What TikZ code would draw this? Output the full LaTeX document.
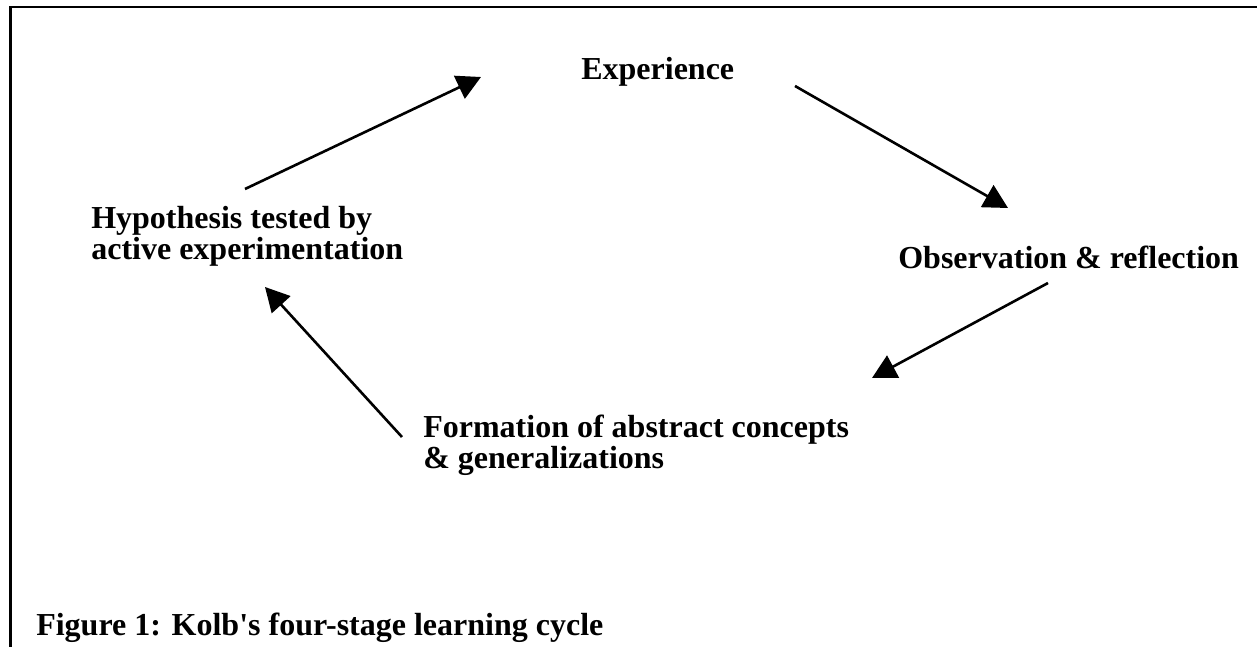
\documentclass[tikz,border=0pt]{standalone}
\usepackage{fontspec}
\setmainfont{Liberation Serif}
\usetikzlibrary{arrows.meta}
\tikzset{>={Triangle[length=24pt,width=25pt]}}
\tikzset{stage/.style={anchor=base west,inner sep=0pt,align=left,
    font=\bfseries\fontsize{32}{31.7}\selectfont}}

\begin{document}
\begin{tikzpicture}[x=1pt,y=-1pt,line width=2.6pt]
    \useasboundingbox (0,0) rectangle (1257,647);
    % frame
    \draw[line width=3.3pt] (10.7,647) -- (10.7,6.5);
    \draw[line width=2pt] (9,7.5) -- (1257,7.5);

    % stages (base = last line)
    \node[stage] (exp) at (580,80) {Experience};
    \node[stage] (obs) at (897,268) {Observation \& reflection};
    \node[stage] (form) at (422,468.7) {Formation of abstract concepts\\\& generalizations};
    \node[stage] (hyp) at (90,259.7) {Hypothesis tested by\\active experimentation};

    \node[stage] (cap) at (35,635) {Figure 1: Kolb\textquotesingle s four-stage learning cycle};

    % arrow ends
    \coordinate (hyp1) at (245,189);
    \coordinate (exp0) at (481,77);
    \coordinate (exp1) at (795,86);
    \coordinate (obs0) at (1008,208);
    \coordinate (obs1) at (1048,283);
    \coordinate (form0) at (872,378);
    \coordinate (form1) at (402,437);
    \coordinate (hyp0) at (265,287);

    \draw[->] (hyp1) -- (exp0);
    \draw[->] (exp1) -- (obs0);
    \draw[->] (obs1) -- (form0);
    \draw[->] (form1) -- (hyp0);
\end{tikzpicture}
\end{document}
